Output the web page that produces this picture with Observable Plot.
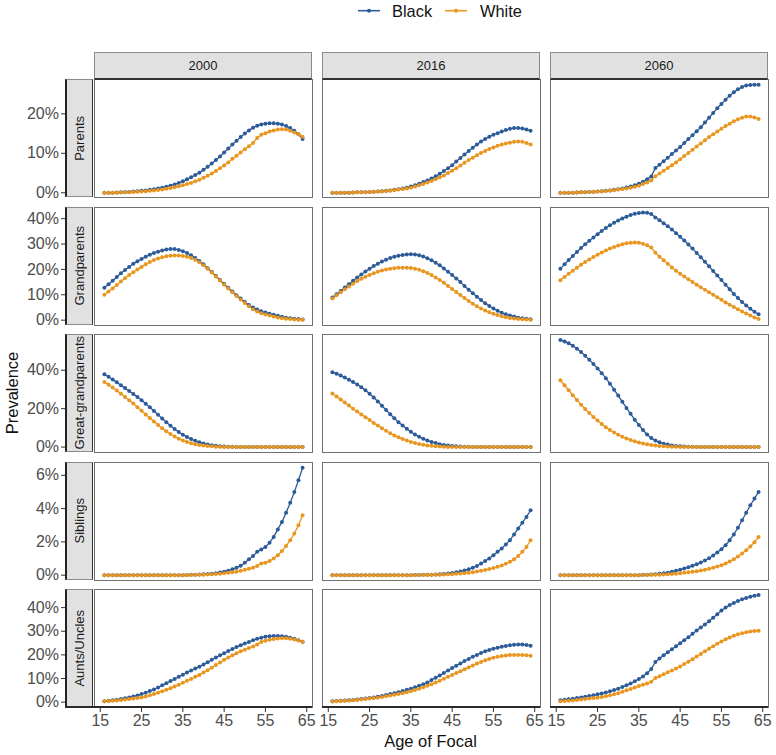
<!DOCTYPE html>
<html><head><meta charset="utf-8">
<script src="https://cdn.jsdelivr.net/npm/d3@7"></script>
<script src="https://cdn.jsdelivr.net/npm/@observablehq/plot@0.6"></script>
<style>
body{margin:0;background:#fff;font-family:"Liberation Sans",Arial,sans-serif;}
#fig{position:relative;width:776px;height:755px;overflow:hidden;background:#fff;}
.strip{position:absolute;background:#e1e1e1;border:1px solid #8a8a8a;box-sizing:border-box;color:#1a1a1a;font-size:13px;display:flex;align-items:center;justify-content:center;}
.vtext{writing-mode:vertical-rl;transform:rotate(180deg);white-space:nowrap;}
.line{position:absolute;background:#2b2b2b;}
.txt{position:absolute;white-space:nowrap;line-height:1;}
</style></head><body><div id="fig"></div><script>
// ---------- data ----------
const ages = [16,17,18,19,20,21,22,23,24,25,26,27,28,29,30,31,32,33,34,35,36,37,38,39,40,41,42,43,44,45,46,47,48,49,50,51,52,53,54,55,56,57,58,59,60,61,62,63,64];
const years = ["2000","2016","2060"];
const races = ["Black","White"];
const kinLabels = ["Parents","Grandparents","Great-grandparents","Siblings","Aunts/Uncles"];
const xTicks = [15,25,35,45,55,65];
const parentsTicks = [0,10,20];
const grandTicks = [0,10,20,30,40];
const ggTicks = [0,20,40];
const sibTicks = [0,2,4,6];
const auntTicks = [0,10,20,30,40];

const parents2000B = [0,0,0,0.05,0.1,0.15,0.2,0.3,0.4,0.5, 0.6,0.75,0.9,1.1,1.3,1.55,1.8,2.1,2.5,2.9, 3.4,3.9,4.5,5.1,5.8,6.6,7.4,8.3,9.2,10.2, 11.2,12.2,13.2,14.1,15.0,15.8,16.5,17.0,17.3,17.5, 17.6,17.6,17.5,17.3,16.9,16.4,15.7,14.8,13.6];
const parents2000W = [0,0,0,0,0.05,0.1,0.15,0.2,0.25,0.3, 0.4,0.5,0.6,0.7,0.85,1.0,1.2,1.4,1.65,1.9, 2.2,2.5,2.9,3.3,3.8,4.3,4.9,5.5,6.2,6.9, 7.7,8.6,9.4,10.2,11.0,11.8,12.6,13.9,14.7,15.1, 15.5,15.8,16.0,16.1,16.0,15.7,15.3,14.8,14.2];
const parents2016B = [0,0,0,0,0,0.05,0.1,0.1,0.15,0.2, 0.25,0.3,0.4,0.5,0.6,0.75,0.9,1.1,1.3,1.6, 1.9,2.3,2.7,3.1,3.6,4.2,4.8,5.5,6.2,7.0, 7.9,8.8,9.7,10.6,11.4,12.2,13.0,13.6,14.2,14.7, 15.1,15.5,15.9,16.2,16.4,16.4,16.3,16.0,15.7];
const parents2016W = [0,0,0,0,0,0.05,0.1,0.1,0.15,0.2, 0.25,0.3,0.35,0.45,0.55,0.65,0.8,0.95,1.1,1.3, 1.6,1.9,2.2,2.6,3.0,3.4,3.9,4.4,5.0,5.6, 6.2,6.9,7.6,8.3,8.9,9.5,10.1,10.6,11.1,11.5, 11.9,12.2,12.5,12.7,12.9,13.0,12.9,12.6,12.2];
const parents2060B = [0,0,0,0,0.05,0.1,0.15,0.2,0.25,0.3, 0.4,0.5,0.6,0.75,0.9,1.1,1.35,1.6,1.9,2.3, 2.8,3.4,4.1,6.3,7.1,8.0,8.9,9.8,10.7,11.6, 12.6,13.6,14.6,15.6,16.6,17.8,19.0,20.2,21.4,22.5, 23.6,24.6,25.5,26.2,26.8,27.2,27.3,27.4,27.4];
const parents2060W = [0,0,0,0,0.05,0.1,0.15,0.2,0.25,0.3, 0.35,0.45,0.55,0.65,0.8,0.95,1.1,1.3,1.5,1.8, 2.2,2.6,3.1,4.2,4.9,5.6,6.3,7.0,7.7,8.5, 9.3,10.1,10.9,11.7,12.5,13.3,14.1,14.8,15.5,16.2, 16.9,17.5,18.1,18.6,19.0,19.3,19.3,19.1,18.7];

const grand2000B = [12.8,14.2,15.5,17.0,18.5,19.8,21.0,22.2,23.2,24.1, 25.0,25.8,26.5,27.0,27.5,27.8,28.0,28.0,27.7,27.2, 26.5,25.6,24.5,23.3,22.0,20.5,19.0,17.4,15.8,14.3, 12.8,11.3,9.8,8.5,7.2,6.0,5.0,4.2,3.5,3.0, 2.5,2.1,1.7,1.3,1.0,0.8,0.6,0.45,0.3];
const grand2000W = [10.0,11.3,12.5,13.9,15.2,16.5,17.8,18.9,20.0,21.0, 22.0,22.9,23.7,24.3,24.8,25.2,25.4,25.5,25.5,25.3, 25.0,24.5,23.8,22.8,21.6,20.3,18.8,17.2,15.6,14.0, 12.5,11.0,9.5,8.1,6.8,5.5,4.3,3.4,2.7,2.2, 1.8,1.4,1.1,0.8,0.6,0.45,0.3,0.2,0.15];
const grand2016B = [8.9,10.2,11.5,12.9,14.2,15.5,16.8,18.0,19.2,20.3, 21.3,22.2,23.1,23.8,24.5,25.0,25.4,25.7,25.9,26.0, 25.9,25.6,25.1,24.4,23.6,22.6,21.6,20.4,19.1,17.8, 16.4,15.0,13.5,12.0,10.6,9.2,7.9,6.7,5.6,4.6, 3.7,2.9,2.3,1.8,1.4,1.0,0.75,0.55,0.4];
const grand2016W = [8.5,9.8,11.0,12.2,13.3,14.4,15.4,16.3,17.1,17.8, 18.5,19.1,19.6,20.0,20.3,20.5,20.7,20.7,20.7,20.6, 20.3,19.9,19.3,18.6,17.8,16.8,15.8,14.7,13.5,12.3, 11.1,9.9,8.7,7.6,6.5,5.5,4.6,3.8,3.1,2.5, 2.0,1.5,1.2,0.9,0.7,0.5,0.35,0.25,0.2];
const grand2060B = [20.3,22.0,23.7,25.3,26.9,28.4,29.9,31.3,32.6,33.9, 35.1,36.3,37.4,38.4,39.3,40.1,40.8,41.4,41.9,42.2, 42.4,42.3,41.8,40.5,39.4,38.2,37.0,35.7,34.3,32.9, 31.4,29.8,28.2,26.5,24.8,23.0,21.2,19.4,17.6,15.8, 14.0,12.2,10.3,8.7,7.2,5.8,4.5,3.3,2.3];
const grand2060W = [15.7,17.0,18.3,19.5,20.7,21.8,22.9,23.9,24.9,25.8, 26.7,27.5,28.2,28.8,29.4,29.9,30.3,30.5,30.6,30.5, 30.1,29.5,28.6,26.6,25.0,23.6,22.2,20.8,19.5,18.3, 17.2,16.1,15.0,14.0,13.0,12.0,11.0,10.0,9.0,8.0, 7.0,6.1,5.2,4.3,3.4,2.6,1.8,1.1,0.5];

const gg2000B = [37.9,36.6,35.2,33.7,32.2,30.7,29.2,27.7,26.1,24.4, 22.6,20.7,18.8,16.9,14.9,12.9,11.1,9.4,7.9,6.5, 5.3,4.2,3.3,2.5,1.9,1.4,1.0,0.7,0.5,0.35, 0.25,0.15,0.1,0.05,0.03,0.02,0.01,0,0,0, 0,0,0,0,0,0,0,0,0];
const gg2000W = [33.9,32.5,31.0,29.4,27.8,26.1,24.4,22.7,20.8,18.9, 17.0,15.1,13.3,11.5,9.8,8.2,6.8,5.5,4.4,3.5, 2.7,2.0,1.5,1.1,0.8,0.55,0.4,0.25,0.15,0.1, 0.05,0.03,0.02,0.01,0,0,0,0,0,0, 0,0,0,0,0,0,0,0,0];
const gg2016B = [39.0,38.2,37.3,36.2,35.0,33.9,32.6,31.2,29.6,27.8, 25.8,23.7,21.5,19.3,17.1,15.0,13.0,11.2,9.5,8.0, 6.6,5.4,4.3,3.4,2.7,2.1,1.5,1.1,0.8,0.6, 0.4,0.3,0.2,0.15,0.1,0.05,0.03,0.02,0.01,0, 0,0,0,0,0,0,0,0,0];
const gg2016W = [27.9,26.4,24.8,23.2,21.6,20.0,18.5,17.0,15.6,14.1, 12.6,11.2,9.8,8.5,7.2,6.1,5.1,4.2,3.4,2.7, 2.1,1.6,1.2,0.9,0.65,0.45,0.3,0.2,0.12,0.08, 0.05,0.03,0.02,0.01,0,0,0,0,0,0, 0,0,0,0,0,0,0,0,0];
const gg2060B = [55.8,55.0,54.0,52.7,51.2,49.5,47.6,45.5,43.2,40.9, 38.5,35.9,33.0,29.9,26.8,23.6,20.4,17.3,14.3,11.5, 8.9,6.6,4.8,3.4,2.5,1.8,1.3,0.9,0.6,0.45, 0.35,0.25,0.18,0.12,0.08,0.05,0.03,0.02,0.01,0, 0,0,0,0,0,0,0,0,0];
const gg2060W = [34.8,32.2,29.6,27.0,24.5,22.1,19.8,17.7,15.7,13.8, 12.0,10.4,8.9,7.6,6.4,5.4,4.5,3.7,3.0,2.4, 1.9,1.5,1.1,0.8,0.6,0.45,0.3,0.2,0.15,0.1, 0.07,0.05,0.03,0.02,0.01,0,0,0,0,0, 0,0,0,0,0,0,0,0,0];

const sib2000B = [0,0,0,0,0,0,0,0,0,0, 0,0,0,0,0,0,0,0,0,0, 0.01,0.02,0.03,0.04,0.05,0.07,0.09,0.12,0.16,0.21, 0.27,0.35,0.45,0.57,0.75,0.95,1.15,1.4,1.55,1.7, 1.95,2.3,2.75,3.2,3.75,4.35,5.0,5.7,6.45];
const sib2000W = [0,0,0,0,0,0,0,0,0,0, 0,0,0,0,0,0,0,0,0,0, 0.01,0.01,0.02,0.02,0.03,0.04,0.05,0.07,0.09,0.11, 0.14,0.17,0.21,0.26,0.32,0.38,0.45,0.55,0.7,0.75, 0.85,1.0,1.2,1.45,1.75,2.1,2.5,3.0,3.6];
const sib2016B = [0,0,0,0,0,0,0,0,0,0, 0,0,0,0,0,0,0,0,0,0, 0.01,0.01,0.02,0.02,0.03,0.04,0.05,0.07,0.1,0.13, 0.17,0.22,0.28,0.36,0.45,0.55,0.7,0.85,1.0,1.2, 1.4,1.6,1.85,2.1,2.45,2.8,3.15,3.5,3.9];
const sib2016W = [0,0,0,0,0,0,0,0,0,0, 0,0,0,0,0,0,0,0,0,0, 0,0.01,0.01,0.01,0.02,0.02,0.03,0.04,0.05,0.06, 0.08,0.1,0.12,0.15,0.18,0.22,0.26,0.31,0.37,0.43, 0.5,0.58,0.68,0.8,0.95,1.15,1.4,1.7,2.1];
const sib2060B = [0,0,0,0,0,0,0,0,0,0, 0,0,0,0,0,0,0,0,0,0, 0.02,0.03,0.04,0.06,0.08,0.11,0.15,0.2,0.26,0.33, 0.4,0.48,0.57,0.66,0.76,0.88,1.02,1.18,1.36,1.56, 1.8,2.1,2.45,2.85,3.3,3.75,4.2,4.6,5.0];
const sib2060W = [0,0,0,0,0,0,0,0,0,0, 0,0,0,0,0,0,0,0,0,0, 0.01,0.01,0.02,0.02,0.03,0.04,0.05,0.07,0.09,0.11, 0.14,0.17,0.2,0.24,0.28,0.33,0.38,0.44,0.52,0.6, 0.7,0.82,0.96,1.12,1.3,1.5,1.72,1.98,2.3];

const aunt2000B = [0.4,0.6,0.8,1.0,1.3,1.6,2.0,2.4,2.8,3.4, 4.0,4.7,5.4,6.2,7.1,8.0,8.9,9.8,10.7,11.6, 12.5,13.4,14.2,15.0,15.9,16.9,17.9,18.9,19.8,20.7, 21.6,22.5,23.3,24.1,24.8,25.5,26.2,26.8,27.3,27.7, 27.9,28.0,28.0,27.9,27.7,27.3,26.8,26.2,25.6];
const aunt2000W = [0.4,0.5,0.6,0.7,0.9,1.1,1.3,1.5,1.7,2.0, 2.4,2.9,3.4,4.0,4.6,5.2,5.9,6.6,7.4,8.2, 9.0,9.8,10.7,11.5,12.5,13.5,14.6,15.7,16.8,17.9, 18.9,19.8,20.7,21.5,22.2,22.9,23.5,24.4,25.5,26.0, 26.4,26.7,26.9,27.0,27.0,26.8,26.5,26.1,25.6];
const aunt2016B = [0.4,0.5,0.6,0.7,0.8,0.9,1.1,1.3,1.5,1.7, 2.0,2.3,2.6,3.0,3.4,3.8,4.2,4.7,5.2,5.7, 6.3,6.9,7.6,8.3,9.4,10.3,11.3,12.3,13.4,14.4, 15.4,16.4,17.4,18.3,19.2,20.0,20.8,21.5,22.1,22.6, 23.0,23.4,23.8,24.1,24.3,24.4,24.4,24.2,23.9];
const aunt2016W = [0.3,0.4,0.5,0.6,0.7,0.8,0.9,1.1,1.3,1.5, 1.7,1.9,2.2,2.5,2.8,3.1,3.4,3.8,4.2,4.6, 5.1,5.7,6.3,6.9,7.6,8.3,9.1,9.9,10.7,11.5, 12.3,13.1,13.9,14.7,15.5,16.3,17.0,17.7,18.3,18.8, 19.2,19.5,19.7,19.9,20.0,20.0,19.9,19.8,19.6];
const aunt2060B = [0.8,1.0,1.2,1.4,1.7,2.0,2.3,2.6,2.9,3.3, 3.7,4.1,4.6,5.1,5.7,6.4,7.1,7.9,8.8,9.8, 10.9,12.2,14.0,17.0,18.5,19.8,21.1,22.4,23.6,24.9, 26.2,27.5,28.9,30.3,31.6,32.9,34.2,35.7,37.2,38.8, 40.0,41.1,42.0,42.8,43.5,44.1,44.6,45.0,45.3];
const aunt2060W = [0.4,0.5,0.6,0.7,0.9,1.1,1.3,1.5,1.7,1.9, 2.2,2.5,2.9,3.3,3.8,4.4,5.0,5.6,6.2,6.8, 7.4,7.9,8.6,10.2,11.0,11.8,12.6,13.4,14.2,15.1, 16.1,17.1,18.2,19.3,20.4,21.5,22.6,23.7,24.7,25.7, 26.6,27.4,28.1,28.7,29.2,29.6,29.9,30.1,30.2];

// ---------- layout ----------
const BLUE = "#2c5b98", ORANGE = "#e8961f";
const rows = [
  {label: kinLabels[0], ticks: parentsTicks, domain: [-1.2, 28.7], s: {"2000": [parents2000B, parents2000W], "2016": [parents2016B, parents2016W], "2060": [parents2060B, parents2060W]}},
  {label: kinLabels[1], ticks: grandTicks, domain: [-2.1, 44.4], s: {"2000": [grand2000B, grand2000W], "2016": [grand2016B, grand2016W], "2060": [grand2060B, grand2060W]}},
  {label: kinLabels[2], ticks: ggTicks, domain: [-2.8, 58.6], s: {"2000": [gg2000B, gg2000W], "2016": [gg2016B, gg2016W], "2060": [gg2060B, gg2060W]}},
  {label: kinLabels[3], ticks: sibTicks, domain: [-0.32, 6.77], s: {"2000": [sib2000B, sib2000W], "2016": [sib2016B, sib2016W], "2060": [sib2060B, sib2060W]}},
  {label: kinLabels[4], ticks: auntTicks, domain: [-2.27, 47.67], s: {"2000": [aunt2000B, aunt2000W], "2016": [aunt2016B, aunt2016W], "2060": [aunt2060B, aunt2060W]}}
];
const panelTop = [79, 206.5, 334, 461.5, 589];
const panelH = 118;
const fig = document.getElementById("fig");

function addDiv(cls, css, html) {
  const d = document.createElement("div");
  d.className = cls;
  Object.assign(d.style, css);
  if (html != null) d.innerHTML = html;
  fig.appendChild(d);
  return d;
}

let fxScale = null;
rows.forEach((row, i) => {
  const last = i === rows.length - 1;
  const data = [];
  years.forEach(yr => {
    row.s[yr].forEach((arr, r) => {
      arr.forEach((v, k) => data.push({year: yr, race: races[r], age: ages[k], value: v}));
    });
  });
  const mb = last ? 30 : 0;
  const plot = Plot.plot({
    width: 776, height: panelH + mb,
    marginTop: 0, marginBottom: mb, marginLeft: 93, marginRight: 8,
    style: {fontFamily: "'Liberation Sans', Arial, sans-serif", background: "transparent", overflow: "visible", color: "#4d4d4d"},
    fx: {domain: years, paddingInner: 0.044, paddingOuter: 0, axis: null, label: null},
    x: {domain: [13.6, 66.4], axis: null},
    y: {domain: row.domain, axis: null},
    color: {type: "ordinal", domain: races, range: [BLUE, ORANGE]},
    marks: [
      Plot.frame({stroke: "#707070", strokeWidth: 1}),
      Plot.lineY(data, {fx: "year", x: "age", y: "value", z: "race", stroke: {value: "race", scale: "color"}, strokeWidth: 1.3}),
      Plot.dot(data, {fx: "year", x: "age", y: "value", fill: {value: "race", scale: "color"}, r: 2}),
      Plot.axisY({ticks: row.ticks, tickFormat: d => d + "%", dx: -28, tickSize: 5, tickPadding: 2.5, fontSize: 16, label: null, stroke: "#333"}),
      last ? Plot.axisX({ticks: xTicks, tickSize: 5, tickPadding: 2, fontSize: 16, label: null, stroke: "#333"}) : null
    ]
  });
  plot.style.position = "absolute";
  plot.style.left = "0px";
  plot.style.top = panelTop[i] + "px";
  fig.appendChild(plot);
  if (!fxScale) fxScale = plot.scale("fx");

  // left row strip
  addDiv("strip", {left: "65px", top: panelTop[i] + "px", width: "28px", height: panelH + "px",
    borderLeft: "2px solid #222", borderRight: "1.5px solid #333"}, `<span class="vtext">${row.label}</span>`);
});

// top strips and bottom axis lines
years.forEach(yr => {
  const x0 = fxScale.apply(yr), bw = fxScale.bandwidth;
  addDiv("strip", {left: x0 + "px", top: "52px", width: bw + "px", height: "27.5px", borderBottom: "2px solid #333"}, yr);
  const lx = yr === years[0] ? 65 : x0;
  addDiv("line", {left: lx + "px", top: "706px", width: (x0 + bw - lx) + "px", height: "1.6px"});
});

// axis titles
const yt = addDiv("txt", {left: "12px", top: "393px", fontSize: "16.5px", color: "#111"}, "Prevalence");
yt.style.transform = "translate(-50%,-50%) rotate(-90deg)";
const xt = addDiv("txt", {left: "430.5px", top: "733px", fontSize: "16.5px", color: "#111"}, "Age of Focal");
xt.style.transform = "translateX(-50%)";

// legend
const legItems = [{name: races[0], color: BLUE, gx: 357, tx: 392}, {name: races[1], color: ORANGE, gx: 444, tx: 480}];
legItems.forEach(it => {
  addDiv("txt", {left: it.gx + "px", top: "0px", width: "24px", height: "22px"},
    `<svg width="24" height="22"><line x1="1" x2="23" y1="10.7" y2="10.7" stroke="${it.color}" stroke-width="1.6"/><circle cx="12" cy="10.7" r="2" fill="${it.color}"/></svg>`);
  const t = addDiv("txt", {left: it.tx + "px", top: "10.7px", fontSize: "16.4px", color: "#111"}, it.name);
  t.style.transform = "translateY(-50%)";
});
</script></body></html>
